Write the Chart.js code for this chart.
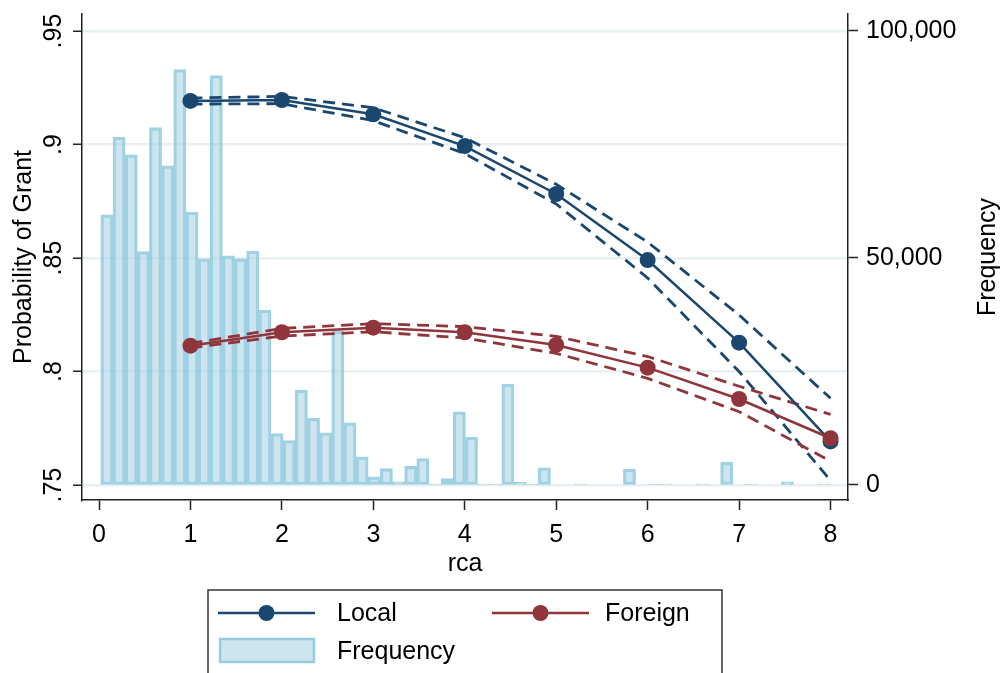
<!DOCTYPE html>
<html>
<head>
<meta charset="utf-8">
<script src="https://cdn.jsdelivr.net/npm/chart.js@4"></script>
<style>
  body { margin: 0; background: #fff; }
  #wrap { width: 1007px; height: 673px; }
</style>
</head>
<body>
<div id="wrap"><canvas id="myChart" width="1007" height="673"></canvas></div>
<script>
// histogram of rca (Frequency, right axis)
const binStart = 0.02;
const binWidth = 0.1329;
const freq = [
  59500, 76600, 72700, 51400, 78700, 70300, 91500, 60100, 49800, 90200,
  50500, 49800, 51500, 38500, 11300, 9800, 20900, 14700, 11500, 33900,
  13700, 6200, 1800, 3600, 700, 4100, 5800, 200, 1400, 16100,
  10500, 200, 100, 22200, 600, 100, 3800, 0, 0, 200,
  0, 0, 0, 3500, 0, 100, 200, 0, 0, 200,
  0, 5000, 0, 100, 0, 0, 700, 0, 0, 100
];

// predicted probability of grant (left axis)
const rca = [1, 2, 3, 4, 5, 6, 7, 8];
const local = [0.9192, 0.9196, 0.9133, 0.8993, 0.8782, 0.8491, 0.8127, 0.7692];
const localHi = [0.9205, 0.9212, 0.9162, 0.9030, 0.8825, 0.8570, 0.8249, 0.7882];
const localLo = [0.9178, 0.9180, 0.9105, 0.8960, 0.8738, 0.8412, 0.8000, 0.7520];
const foreign = [0.8114, 0.8173, 0.8193, 0.8173, 0.8117, 0.8017, 0.7879, 0.7706];
const foreignHi = [0.8124, 0.8190, 0.8211, 0.8198, 0.8155, 0.8066, 0.7935, 0.7811];
const foreignLo = [0.8104, 0.8156, 0.8175, 0.8148, 0.8080, 0.7970, 0.7823, 0.7605];

const xTicks = [0, 1, 2, 3, 4, 5, 6, 7, 8];
const yTicks = [0.75, 0.8, 0.85, 0.9, 0.95];
const yTickLabels = ['.75', '.8', '.85', '.9', '.95'];
const freqTicks = [0, 50000, 100000];
const freqTickLabels = ['0', '50,000', '100,000'];

const NAVY = '#1a476f';
const MAROON = '#90353b';
const FONT = '"Liberation Sans", Arial, sans-serif';

function pts(ys) {
  return ys.map((y, i) => ({x: rca[i], y: y}));
}

const histData = freq.map((f, i) => ({x: binStart + binWidth * (i + 0.5), y: f}));

function lineSet(data, color, dashed, order) {
  return {
    type: 'line',
    data: data,
    xAxisID: 'x',
    yAxisID: 'y',
    borderColor: color,
    backgroundColor: color,
    borderWidth: dashed ? 2.8 : 2.5,
    borderDash: dashed ? [12, 7] : [],
    pointRadius: dashed ? 0 : 8,
    pointBorderWidth: 0,
    tension: 0,
    fill: false,
    order: order
  };
}

// no extra label padding, so the plot box stays where the original puts it
function noPad(s) {
  s.paddingTop = 0; s.paddingBottom = 0; s.paddingLeft = 0; s.paddingRight = 0;
}

const textPlugin = {
  id: 'stataText',
  afterDraw(chart) {
    const ctx = chart.ctx;
    const area = chart.chartArea;
    const ys = chart.scales.y;
    ctx.save();
    ctx.fillStyle = '#000';
    ctx.font = '25px ' + FONT;
    ctx.textAlign = 'center';
    ctx.textBaseline = 'middle';
    // rotated left tick labels
    yTicks.forEach((v, i) => {
      ctx.save();
      ctx.translate(54, ys.getPixelForValue(v));
      ctx.rotate(-Math.PI / 2);
      ctx.fillText(yTickLabels[i], 0, 0);
      ctx.restore();
    });
    const midY = (area.top + area.bottom) / 2;
    // axis titles
    ctx.save();
    ctx.translate(24, midY);
    ctx.rotate(-Math.PI / 2);
    ctx.fillText('Probability of Grant', 0, 0);
    ctx.restore();
    ctx.save();
    ctx.translate(988, midY);
    ctx.rotate(-Math.PI / 2);
    ctx.fillText('Frequency', 0, 0);
    ctx.restore();
    ctx.fillText('rca', (area.left + area.right) / 2, 564);

    // legend
    ctx.strokeStyle = '#333';
    ctx.lineWidth = 1.5;
    ctx.strokeRect(208, 590, 514, 120);
    ctx.textAlign = 'left';
    const items = [[218, 613, NAVY, 'Local', 337], [492, 613, MAROON, 'Foreign', 605]];
    items.forEach(([x0, y0, c, label, tx]) => {
      ctx.strokeStyle = c;
      ctx.lineWidth = 2.5;
      ctx.beginPath();
      ctx.moveTo(x0, y0);
      ctx.lineTo(x0 + 97, y0);
      ctx.stroke();
      ctx.fillStyle = c;
      ctx.beginPath();
      ctx.arc(x0 + 48.5, y0, 8, 0, Math.PI * 2);
      ctx.fill();
      ctx.fillStyle = '#000';
      ctx.fillText(label, tx, y0 + 1);
    });
    ctx.fillStyle = 'rgba(155,203,223,0.5)';
    ctx.fillRect(219, 638, 96, 25);
    ctx.strokeStyle = 'rgba(136,199,221,0.8)';
    ctx.lineWidth = 2.5;
    ctx.strokeRect(220, 639, 94, 23);
    ctx.fillStyle = '#000';
    ctx.fillText('Frequency', 337, 652);
    ctx.restore();
  }
};

new Chart(document.getElementById('myChart'), {
  type: 'bar',
  data: {
    datasets: [
      {
        type: 'bar',
        label: 'Frequency',
        data: histData,
        xAxisID: 'x',
        yAxisID: 'y1',
        backgroundColor: 'rgba(155,203,223,0.5)',
        borderColor: 'rgba(136,199,221,0.8)',
        borderWidth: 2.5,
        borderSkipped: false,
        barPercentage: 1,
        categoryPercentage: 1,
        order: 10
      },
      lineSet(pts(localHi), NAVY, true, 6),
      lineSet(pts(localLo), NAVY, true, 6),
      lineSet(pts(foreignHi), MAROON, true, 5),
      lineSet(pts(foreignLo), MAROON, true, 5),
      lineSet(pts(local), NAVY, false, 3),
      lineSet(pts(foreign), MAROON, false, 2)
    ]
  },
  options: {
    responsive: false,
    animation: false,
    devicePixelRatio: 1,
    layout: {padding: {top: 14, left: 0, right: 0, bottom: 0}},
    plugins: {legend: {display: false}, tooltip: {enabled: false}},
    scales: {
      x: {
        type: 'linear',
        position: 'bottom',
        min: -0.186,
        max: 8.191,
        offset: false,
        afterBuildTicks: s => { s.ticks = xTicks.map(v => ({value: v})); },
        afterFit: s => { s.height = 173; noPad(s); },
        grid: {offset: false, drawOnChartArea: false, drawTicks: true, tickLength: 10, tickColor: '#222', tickWidth: 1.5},
        border: {display: true, color: '#222', width: 1.5},
        ticks: {color: '#000', font: {family: FONT, size: 25}, padding: 10, maxRotation: 0, autoSkip: false,
          callback: v => String(v)}
      },
      y: {
        type: 'linear',
        position: 'left',
        min: 0.7434,
        max: 0.9575,
        afterBuildTicks: s => { s.ticks = yTicks.map(v => ({value: v})); },
        afterFit: s => { s.width = 82; noPad(s); },
        grid: {color: '#e8f0f3', lineWidth: 2.5, tickLength: 9, tickColor: '#222', tickWidth: 1.5},
        border: {display: true, color: '#222', width: 1.5},
        ticks: {color: 'rgba(0,0,0,0)', font: {family: FONT, size: 25}}
      },
      y1: {
        type: 'linear',
        position: 'right',
        min: -3304,
        max: 103744,
        afterBuildTicks: s => { s.ticks = freqTicks.map(v => ({value: v})); },
        afterFit: s => { s.width = 159; noPad(s); },
        grid: {drawOnChartArea: false, tickLength: 10, tickColor: '#222', tickWidth: 1.5},
        border: {display: true, color: '#222', width: 1.5},
        ticks: {color: '#000', font: {family: FONT, size: 25}, padding: 8,
          callback: (v, i) => freqTickLabels[i]}
      }
    }
  },
  plugins: [textPlugin]
});
</script>
</body>
</html>
